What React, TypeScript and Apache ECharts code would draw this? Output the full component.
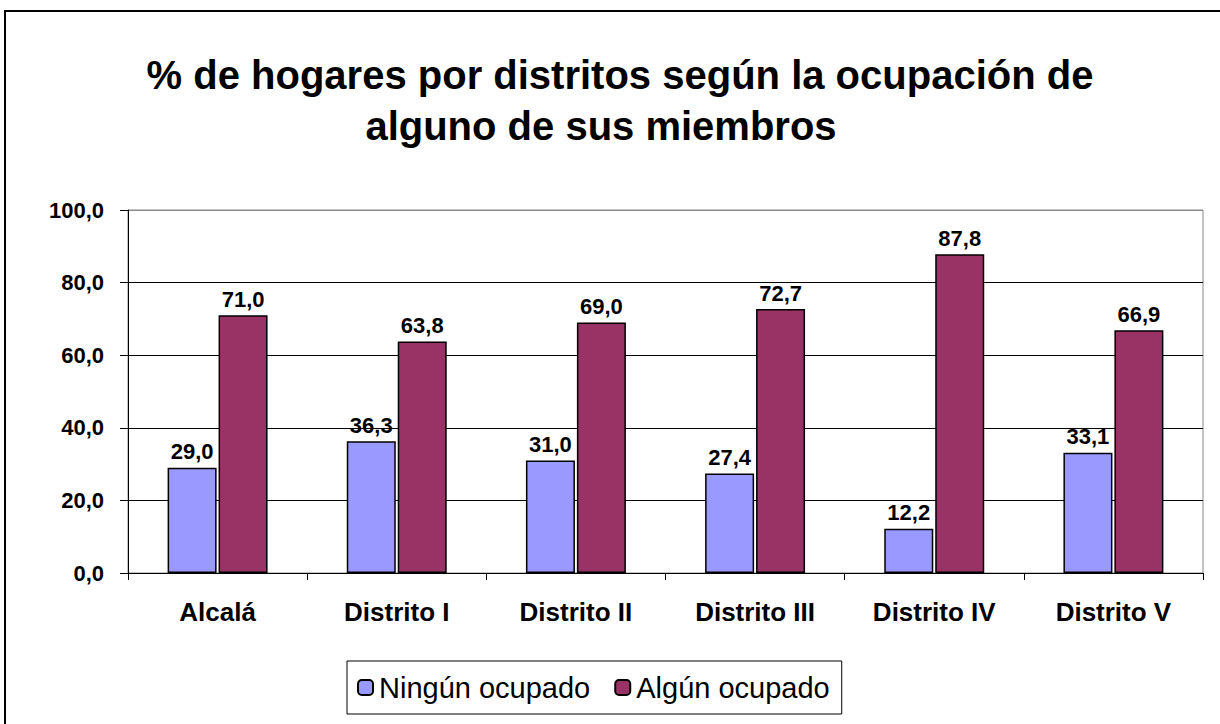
import React, { useEffect, useRef } from "react";
import * as echarts from "echarts";

const categories = ["Alcalá", "Distrito I", "Distrito II", "Distrito III", "Distrito IV", "Distrito V"];
const ningunOcupado = [29.0, 36.3, 31.0, 27.4, 12.2, 33.1];
const algunOcupado = [71.0, 63.8, 69.0, 72.7, 87.8, 66.9];
const seriesNames = ["Ningún ocupado", "Algún ocupado"];
const titleLines = ["% de hogares por distritos según la ocupación de", "alguno de sus miembros"];

const fmt = (v: number) => v.toFixed(1).replace(".", ",");
const FONT = "'Liberation Sans', Arial, sans-serif";

export default function App() {
  const ref = useRef<HTMLDivElement>(null);
  useEffect(() => {
    if (!ref.current) return;
    const chart = echarts.init(ref.current, null, { renderer: "svg" });
    const titleStyle = {
      fontFamily: FONT,
      fontSize: 40,
      fontWeight: "bold",
      color: "#000",
      lineHeight: 40,
    };
    const labelStyle = {
      show: true,
      position: "top",
      distance: 5,
      fontFamily: FONT,
      fontSize: 22,
      fontWeight: "bold",
      color: "#000",
      formatter: (p: any) => fmt(p.value),
    };
    chart.setOption({
      animation: false,
      backgroundColor: "#fff",
      textStyle: { fontFamily: FONT },
      title: [
        { text: titleLines[0], left: 620, top: 55, textAlign: "center", padding: 0, textStyle: titleStyle },
        { text: titleLines[1], left: 601, top: 106, textAlign: "center", padding: 0, textStyle: titleStyle },
      ],
      graphic: [
        {
          type: "rect",
          shape: { x: 5, y: 11, width: 1240, height: 740 },
          style: { fill: "none", stroke: "#000", lineWidth: 2 },
          silent: true,
        },
      ],
      grid: {
        left: 128,
        right: 17,
        top: 210,
        bottom: 151,
        show: true,
        borderColor: "#888",
        borderWidth: 1,
      },
      legend: {
        left: 347,
        top: 661,
        itemWidth: 15,
        itemHeight: 15,
        itemGap: 24,
        padding: [12, 12, 12, 10],
        borderColor: "#000",
        borderWidth: 1,
        textStyle: { fontFamily: FONT, fontSize: 29, color: "#000", padding: [0, 0, 0, 1] },
        data: seriesNames,
      },
      xAxis: {
        type: "category",
        data: categories,
        axisLine: { lineStyle: { color: "#000", width: 1 } },
        axisTick: { show: true, length: 7, alignWithLabel: false, lineStyle: { color: "#000" } },
        axisLabel: {
          fontFamily: FONT,
          fontSize: 26,
          fontWeight: "bold",
          color: "#000",
          margin: 26,
        },
      },
      yAxis: {
        type: "value",
        min: 0,
        max: 100,
        interval: 20,
        axisLine: { show: true, lineStyle: { color: "#000", width: 1 } },
        axisTick: { show: true, length: 8, lineStyle: { color: "#000" } },
        axisLabel: {
          fontFamily: FONT,
          fontSize: 22,
          fontWeight: "bold",
          color: "#000",
          margin: 24,
          formatter: (v: number) => fmt(v),
        },
        splitLine: {
          show: true,
          lineStyle: { color: ["#000", "#000", "#000", "#000", "#000", "#888"], width: 1 },
        },
      },
      series: [
        {
          name: seriesNames[0],
          type: "bar",
          data: ningunOcupado,
          barWidth: 49,
          barGap: "4%",
          itemStyle: { color: "#9999FF", borderColor: "#000", borderWidth: 1.5 },
          label: labelStyle,
        },
        {
          name: seriesNames[1],
          type: "bar",
          data: algunOcupado,
          barWidth: 49,
          itemStyle: { color: "#993366", borderColor: "#000", borderWidth: 1.5 },
          label: labelStyle,
        },
      ],
    });
    return () => chart.dispose();
  }, []);
  return (
    <div
      ref={ref}
      style={{ position: "fixed", left: 0, top: 0, width: 1220, height: 724 }}
    />
  );
}
